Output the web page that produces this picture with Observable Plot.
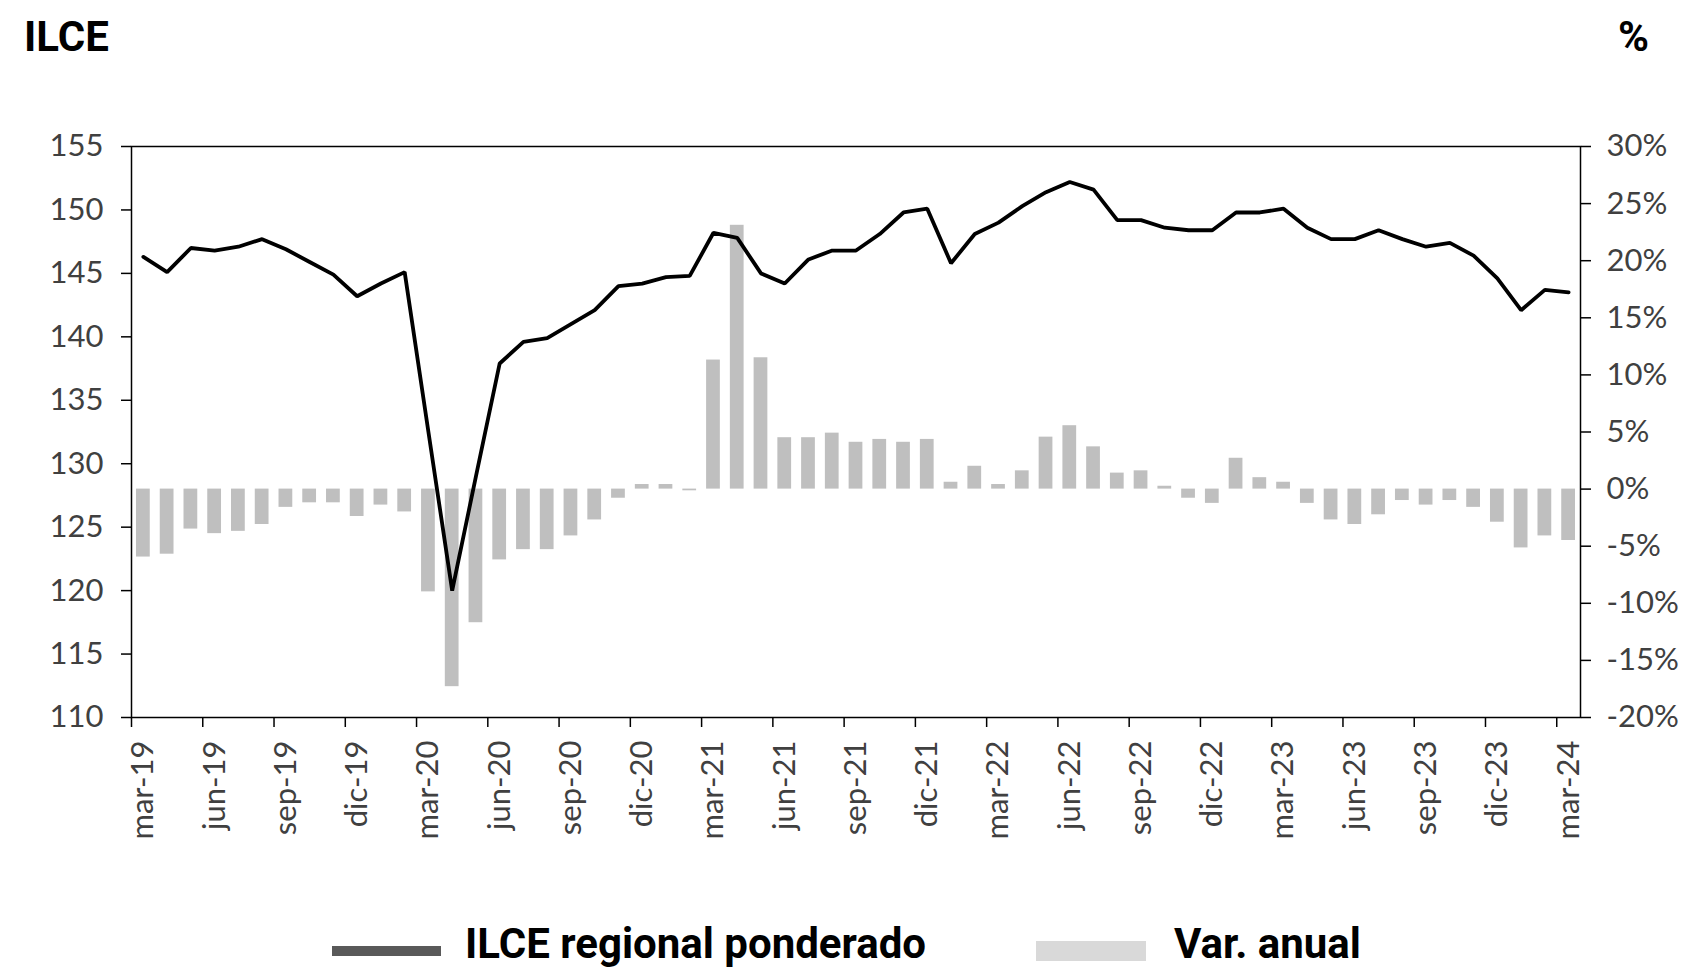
<!DOCTYPE html>
<html><head><meta charset="utf-8">
<script src="https://cdn.jsdelivr.net/npm/d3@7"></script>
<script src="https://cdn.jsdelivr.net/npm/@observablehq/plot@0.6"></script>
<style>
body{margin:0;background:#fff;}
#wrap{position:relative;width:1695px;height:970px;overflow:hidden;background:#fff;}
.hdr{position:absolute;font-family:Roboto;font-weight:700;font-size:42px;line-height:42px;color:#000;white-space:nowrap;}
#chart{position:absolute;left:0;top:0;}
.sw{position:absolute;}
</style></head><body>
<div id="wrap">
<div id="chart"></div>
<div class="hdr" style="left:24px;top:16px">ILCE</div>
<div class="hdr" style="left:1618px;top:16px">%</div>
<div class="sw" style="left:332px;top:946px;width:109px;height:10px;background:#595959"></div>
<div class="hdr" style="left:465px;top:923px">ILCE regional ponderado</div>
<div class="sw" style="left:1036px;top:941px;width:110px;height:20px;background:#d9d9d9"></div>
<div class="hdr" style="left:1174px;top:923px">Var. anual</div>
</div>
<script>
const months = ["mar-19","abr-19","may-19","jun-19","jul-19","ago-19","sep-19","oct-19","nov-19","dic-19",
"ene-20","feb-20","mar-20","abr-20","may-20","jun-20","jul-20","ago-20","sep-20","oct-20","nov-20","dic-20",
"ene-21","feb-21","mar-21","abr-21","may-21","jun-21","jul-21","ago-21","sep-21","oct-21","nov-21","dic-21",
"ene-22","feb-22","mar-22","abr-22","may-22","jun-22","jul-22","ago-22","sep-22","oct-22","nov-22","dic-22",
"ene-23","feb-23","mar-23","abr-23","may-23","jun-23","jul-23","ago-23","sep-23","oct-23","nov-23","dic-23",
"ene-24","feb-24","mar-24"];
const ilce = [146.3,145.1,147.0,146.8,147.1,147.7,146.9,145.9,144.9,143.2,
144.2,145.1,132.5,120.0,129.0,137.9,139.6,139.9,141.0,142.1,144.0,144.2,
144.7,144.8,148.2,147.8,145.0,144.2,146.1,146.8,146.8,148.1,149.8,150.1,
145.8,148.1,149.0,150.3,151.4,152.2,151.6,149.2,149.2,148.6,148.4,148.4,
149.8,149.8,150.1,148.6,147.7,147.7,148.4,147.7,147.1,147.4,146.4,144.6,
142.1,143.7,143.5];
const varAnual = [-5.95,-5.7,-3.5,-3.9,-3.7,-3.1,-1.6,-1.2,-1.2,-2.4,
-1.4,-2.0,-9.0,-17.3,-11.7,-6.2,-5.3,-5.3,-4.1,-2.7,-0.8,0.4,
0.4,-0.15,11.3,23.1,11.5,4.5,4.5,4.9,4.1,4.35,4.1,4.35,
0.6,2.0,0.4,1.6,4.55,5.55,3.7,1.4,1.6,0.25,-0.8,-1.25,
2.7,1.0,0.6,-1.25,-2.7,-3.1,-2.25,-1.0,-1.4,-1.0,-1.6,-2.9,
-5.15,-4.1,-4.5];
const leftTicks = [110,115,120,125,130,135,140,145,150,155];
const rightTicksPct = [-20,-15,-10,-5,0,5,10,15,20,25,30];
const labelMonths = ["mar-19","jun-19","sep-19","dic-19","mar-20","jun-20","sep-20","dic-20","mar-21","jun-21","sep-21","dic-21",
"mar-22","jun-22","sep-22","dic-22","mar-23","jun-23","sep-23","dic-23","mar-24"];

// right axis (%) maps -20..30 onto the left 110..155 range
const toLeft = p => 110 + (p + 20) * 0.9;
const data = months.map((m, i) => ({m, ilce: ilce[i], v: varAnual[i]}));

const W = 1695, H = 900;
const mL = 131, mR = 115, mT = 146, mB = H - 717;
const bw = (W - mL - mR) / months.length;

const chart = Plot.plot({
  width: W, height: H,
  marginLeft: mL, marginRight: mR, marginTop: mT, marginBottom: mB,
  style: {fontFamily: "Lato, sans-serif", fontSize: "31px", color: "#404040", background: "transparent", overflow: "visible"},
  x: {type: "band", domain: months, padding: 0, axis: null},
  y: {domain: [110, 155], axis: null},
  marks: [
    Plot.barY(data, {x: "m", y1: toLeft(0), y2: d => toLeft(d.v), fill: "#bfbfbf", insetLeft: 5, insetRight: 5}),
    Plot.line(data, {x: "m", y: "ilce", stroke: "#000", strokeWidth: 3.8, strokeLinejoin: "miter"}),
    Plot.frame({stroke: "#000", strokeWidth: 1.5}),
    Plot.axisY({anchor: "left", label: null, ticks: leftTicks, tickSize: 10, tickPadding: 18, tickFormat: d => String(d), stroke: "#000", strokeWidth: 1.5, fill: "#404040"}),
    Plot.axisY({anchor: "right", label: null, ticks: rightTicksPct.map(toLeft), tickSize: 10, tickPadding: 16,
      tickFormat: v => Math.round((v - 110) / 0.9 - 20) + "%", stroke: "#000", strokeWidth: 1.5, fill: "#404040"}),
    Plot.axisX({label: null, ticks: labelMonths, tickSize: 10, tickFormat: () => "", dx: -bw / 2, stroke: "#000", strokeWidth: 1.5}),
    Plot.axisX({label: null, ticks: labelMonths, tickSize: 0, tickPadding: 23, tickRotate: -90, fill: "#404040"})
  ]
});
document.getElementById("chart").appendChild(chart);
</script>
</body></html>
